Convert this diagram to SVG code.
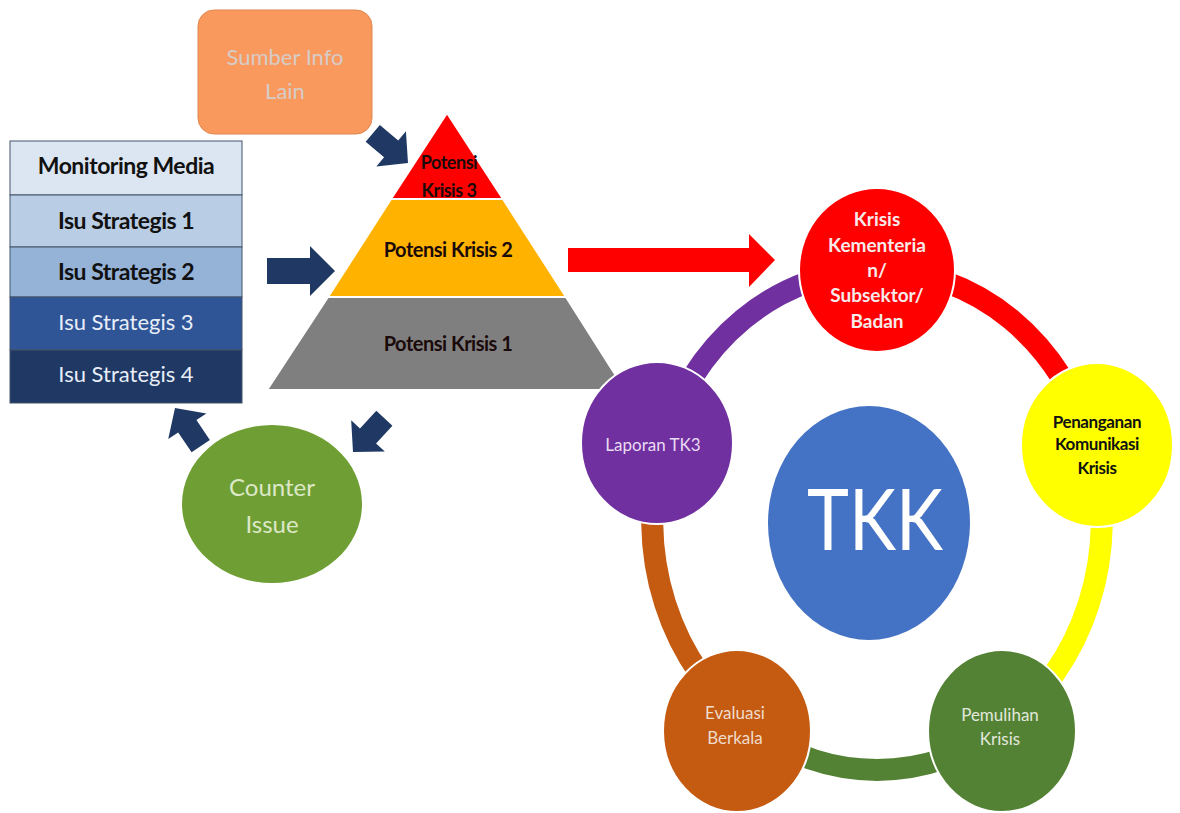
<svg xmlns="http://www.w3.org/2000/svg" width="1180" height="813" viewBox="0 0 1180 813">
<style>
.t{font-family:Lato,"Open Sans","Liberation Sans",sans-serif;text-anchor:middle}
.b{font-weight:bold}
.nav{fill:#1F3864}
.ring{fill:none;stroke-width:22}
.row{stroke:#44546A;stroke-width:1}
.node{stroke:#FFFFFF;stroke-width:2}
</style>
<defs>
<path id="darr" d="M0,0 L-22,-23 L-22,-11 L-46,-11 L-46,11 L-22,11 L-22,23 Z"/>
</defs>
<rect width="1180" height="813" fill="#FFFFFF"/>

<g id="connectors">
  <path class="ring" stroke="#FF0000" d="M877,270 A225,250 0 0 1 1092,447"/>
  <path class="ring" stroke="#FFFF00" d="M1092,447 A225,250 0 0 1 1003,727"/>
  <path class="ring" stroke="#548235" d="M1003,727 A225,250 0 0 1 751,727"/>
  <path class="ring" stroke="#C55A11" d="M751,727 A225,250 0 0 1 662,447"/>
  <path class="ring" stroke="#7030A0" d="M662,447 A225,250 0 0 1 877,270"/>
  <path class="nav" d="M335,271 L310,246 L310,258 L267,258 L267,284 L310,284 L310,296 Z"/>
  <use href="#darr" class="nav" transform="translate(408,163) rotate(40)"/>
  <use href="#darr" class="nav" transform="translate(353,452) rotate(133)"/>
  <use href="#darr" class="nav" transform="translate(175,408) rotate(-124)"/>
  <path fill="#FF0000" d="M775,260 L749,234 L749,248 L568,248 L568,272 L749,272 L749,287 Z"/>
</g>

<g id="sumber">
  <rect x="198" y="10" width="174" height="124" rx="16" fill="#F9995E" stroke="#E0874C" stroke-width="1"/>
  <text class="t" x="285" y="65" font-size="22" fill="#D6CCC8">Sumber Info</text>
  <text class="t" x="285" y="99" font-size="22" fill="#D6CCC8">Lain</text>
</g>

<g id="monitoring">
  <rect class="row" x="10" y="141" width="232" height="54" fill="#DCE6F2"/>
  <rect class="row" x="10" y="195" width="232" height="52" fill="#B9CDE5"/>
  <rect class="row" x="10" y="247" width="232" height="50" fill="#95B3D7"/>
  <rect class="row" x="10" y="297" width="232" height="53" fill="#2F5597"/>
  <rect class="row" x="10" y="350" width="232" height="53" fill="#1F3864"/>
  <text class="t b" x="126" y="174" font-size="23" fill="#111111" letter-spacing="-0.5">Monitoring Media</text>
  <text class="t b" x="126" y="229" font-size="23" fill="#111111" letter-spacing="-0.5">Isu Strategis 1</text>
  <text class="t b" x="126" y="280" font-size="23" fill="#111111" letter-spacing="-0.5">Isu Strategis 2</text>
  <text class="t" x="126" y="330" font-size="22" fill="#E8EEF8">Isu Strategis 3</text>
  <text class="t" x="126" y="382" font-size="22" fill="#E8EEF8">Isu Strategis 4</text>
</g>

<g id="pyramid">
  <polygon points="447,113 391,199 503,199" fill="#FF0000" stroke="#FFFFFF" stroke-width="2"/>
  <polygon points="391,199 503,199 566,297 328,297" fill="#FFB300" stroke="#FFFFFF" stroke-width="2"/>
  <polygon points="328,297 566,297 625,390 267,390" fill="#7F7F7F" stroke="#FFFFFF" stroke-width="2"/>
  <text class="t b" x="449" y="169" font-size="18" fill="#1A0A0A" letter-spacing="-0.5">Potensi</text>
  <text class="t b" x="449" y="197" font-size="18" fill="#1A0A0A" letter-spacing="-0.5">Krisis 3</text>
  <text class="t b" x="448" y="257" font-size="20" fill="#1A0A0A" letter-spacing="-0.5">Potensi Krisis 2</text>
  <text class="t b" x="448" y="351" font-size="20" fill="#1A0A0A" letter-spacing="-0.5">Potensi Krisis 1</text>
</g>

<g id="counter">
  <ellipse cx="272" cy="504" rx="90" ry="79" fill="#6F9F34"/>
  <text class="t" x="272" y="496" font-size="24" fill="#DCE8C8">Counter</text>
  <text class="t" x="272" y="533" font-size="24" fill="#DCE8C8">Issue</text>
</g>

<g id="tkk">
  <ellipse cx="869" cy="523" rx="101" ry="117" fill="#4472C4"/>
  <text class="t" x="875" y="550" font-size="86" fill="#FFFFFF" textLength="136" lengthAdjust="spacingAndGlyphs">TKK</text>
</g>

<g id="krisis">
  <ellipse class="node" cx="877" cy="270" rx="78" ry="82" fill="#FF0000"/>
  <text class="t b" x="877" y="226" font-size="19" fill="#F7EAEA">Krisis</text>
  <text class="t b" x="877" y="252" font-size="19" fill="#F7EAEA">Kementeria</text>
  <text class="t b" x="877" y="277" font-size="19" fill="#F7EAEA">n/</text>
  <text class="t b" x="877" y="302" font-size="19" fill="#F7EAEA">Subsektor/</text>
  <text class="t b" x="877" y="328" font-size="19" fill="#F7EAEA">Badan</text>
</g>

<g id="penanganan">
  <ellipse class="node" cx="1097" cy="445" rx="76" ry="82" fill="#FFFF00"/>
  <text class="t b" x="1097" y="428" font-size="17" fill="#111111" letter-spacing="-0.4">Penanganan</text>
  <text class="t b" x="1097" y="450" font-size="17" fill="#111111" letter-spacing="-0.4">Komunikasi</text>
  <text class="t b" x="1097" y="474" font-size="17" fill="#111111" letter-spacing="-0.4">Krisis</text>
</g>

<g id="pemulihan">
  <ellipse class="node" cx="1002" cy="731" rx="74" ry="81" fill="#548235"/>
  <text class="t" x="1000" y="721" font-size="17" fill="#E2E8DC">Pemulihan</text>
  <text class="t" x="1000" y="745" font-size="17" fill="#E2E8DC">Krisis</text>
</g>

<g id="evaluasi">
  <ellipse class="node" cx="737" cy="731" rx="74" ry="81" fill="#C55A11"/>
  <text class="t" x="735" y="719" font-size="17" fill="#EEDCCC">Evaluasi</text>
  <text class="t" x="735" y="744" font-size="17" fill="#EEDCCC">Berkala</text>
</g>

<g id="laporan">
  <ellipse class="node" cx="657" cy="443" rx="76" ry="81" fill="#7030A0"/>
  <text class="t" x="653" y="451" font-size="17" fill="#EADCF2">Laporan TK3</text>
</g>
</svg>
